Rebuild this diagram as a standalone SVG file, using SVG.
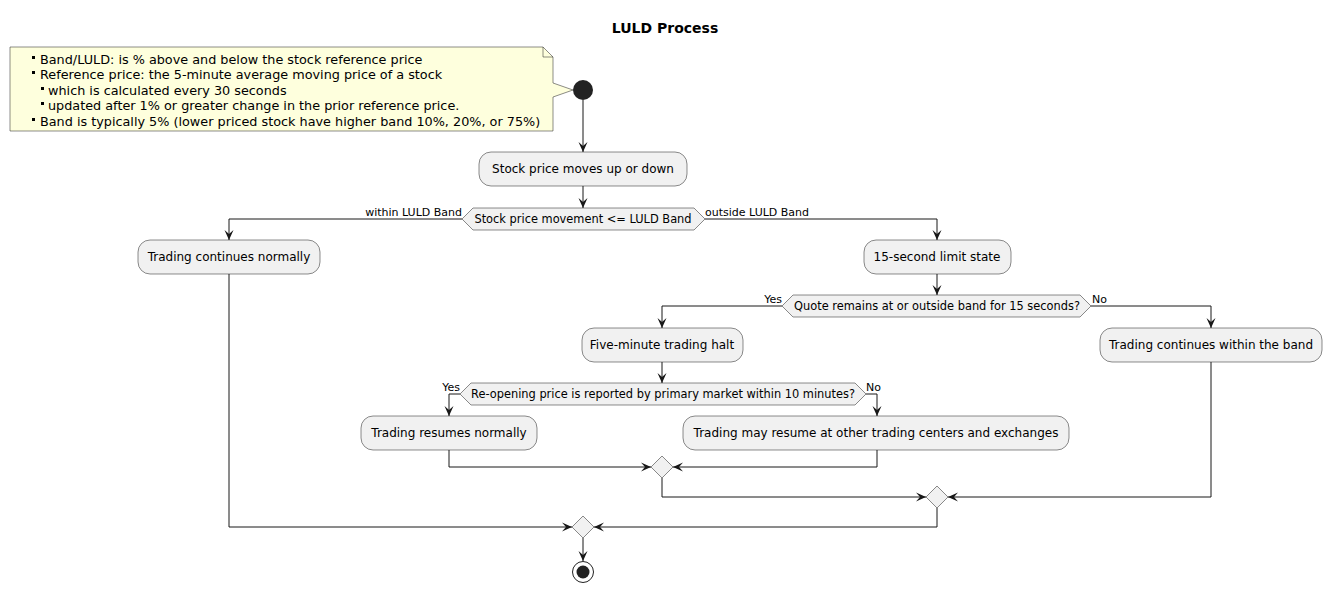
<svg xmlns="http://www.w3.org/2000/svg" width="1331" height="592" viewBox="0 0 1331 592">
<style>
text{font-family:"DejaVu Sans","Noto Sans",sans-serif;fill:#000}
.t{font-size:12px;text-anchor:middle}
.d{font-size:11.4px;text-anchor:middle}
.l{font-size:11px}
.n{font-size:12.8px}
.box{fill:#F1F1F1;stroke:#181818;stroke-width:0.5}
.ln{fill:none;stroke:#181818;stroke-width:1;marker-end:url(#ah)}
</style>
<defs>
<marker id="ah" markerWidth="12" markerHeight="12" refX="11" refY="6" orient="auto" markerUnits="userSpaceOnUse">
<path d="M1,1.5 L11,6 L1,10.5 L5,6 Z" fill="#181818"/>
</marker>
</defs>
<rect width="1331" height="592" fill="#FFFFFF"/>
<text x="665" y="33" font-size="14" font-weight="bold" text-anchor="middle">LULD Process</text>

<g id="note">
<path d="M10,47 L543,47 L553,57 L553,83 L573,90 L553,97 L553,131 L10,131 Z" fill="#FEFFDD" stroke="#181818" stroke-width="0.5"/>
<path d="M543,47 L543,57 L553,57" fill="none" stroke="#181818" stroke-width="0.5"/>
<rect x="32" y="56" width="3" height="3" fill="#000"/>
<text class="n" x="40" y="64">Band/LULD: is % above and below the stock reference price</text>
<rect x="32" y="71" width="3" height="3" fill="#000"/>
<text class="n" x="40" y="79">Reference price: the 5-minute average moving price of a stock</text>
<rect x="41" y="87" width="3" height="3" fill="#000"/>
<text class="n" x="48" y="95">which is calculated every 30 seconds</text>
<rect x="41" y="102" width="3" height="3" fill="#000"/>
<text class="n" x="48" y="110">updated after 1% or greater change in the prior reference price.</text>
<rect x="32" y="118" width="3" height="3" fill="#000"/>
<text class="n" x="40" y="126">Band is typically 5% (lower priced stock have higher band 10%, 20%, or 75%)</text>
</g>

<g id="start"><circle cx="583" cy="90" r="10" fill="#222222"/></g>

<g id="n1"><rect class="box" x="479" y="152" width="208" height="34" rx="12"/><text class="t" x="583" y="173">Stock price moves up or down</text></g>
<g id="d1"><polygon class="box" points="462,219 473,208 694,208 705,219 694,230 473,230"/><text class="d" x="583" y="223">Stock price movement &lt;= LULD Band</text></g>
<g id="n2"><rect class="box" x="138" y="240" width="182" height="34" rx="12"/><text class="t" x="229" y="261">Trading continues normally</text></g>
<g id="n3"><rect class="box" x="864" y="240" width="147" height="34" rx="12"/><text class="t" x="937" y="261">15-second limit state</text></g>
<g id="d2"><polygon class="box" points="782,306 793,295 1080,295 1091,306 1080,317 793,317"/><text class="d" x="937" y="310">Quote remains at or outside band for 15 seconds?</text></g>
<g id="n4"><rect class="box" x="582" y="328" width="161" height="34" rx="12"/><text class="t" x="662" y="349">Five-minute trading halt</text></g>
<g id="n5"><rect class="box" x="1100" y="328" width="222" height="34" rx="12"/><text class="t" x="1211" y="349">Trading continues within the band</text></g>
<g id="d3"><polygon class="box" points="460,394 471,383 855,383 866,394 855,405 471,405"/><text class="d" x="663" y="398">Re-opening price is reported by primary market within 10 minutes?</text></g>
<g id="n6"><rect class="box" x="361" y="416" width="176" height="34" rx="12"/><text class="t" x="449" y="437">Trading resumes normally</text></g>
<g id="n7"><rect class="box" x="683" y="416" width="386" height="34" rx="12"/><text class="t" x="876" y="437">Trading may resume at other trading centers and exchanges</text></g>
<g id="m1"><polygon class="box" points="662,456 673,467 662,478 651,467"/></g>
<g id="m2"><polygon class="box" points="937,486 948,497 937,508 926,497"/></g>
<g id="m3"><polygon class="box" points="583,516 594,527 583,538 572,527"/></g>
<g id="end"><circle cx="583" cy="572" r="10.5" fill="none" stroke="#222222" stroke-width="1"/><circle cx="583" cy="572" r="6.5" fill="#222222"/></g>

<g id="connectors">
<path class="ln" d="M583,100 L583,152"/>
<path class="ln" d="M583,186 L583,208"/>
<path class="ln" d="M462,219 L229,219 L229,240"/>
<path class="ln" d="M705,219 L937,219 L937,240"/>
<path class="ln" d="M937,274 L937,295"/>
<path class="ln" d="M782,306 L662,306 L662,328"/>
<path class="ln" d="M1091,306 L1211,306 L1211,328"/>
<path class="ln" d="M662,362 L662,383"/>
<path class="ln" d="M460,394 L449,394 L449,416"/>
<path class="ln" d="M866,394 L877,394 L877,416"/>
<path class="ln" d="M449,450 L449,467 L651,467"/>
<path class="ln" d="M877,450 L877,467 L673,467"/>
<path class="ln" d="M662,478 L662,497 L926,497"/>
<path class="ln" d="M1211,362 L1211,497 L948,497"/>
<path class="ln" d="M229,274 L229,527 L572,527"/>
<path class="ln" d="M937,508 L937,527 L594,527"/>
<path class="ln" d="M583,538 L583,561"/>
<text class="l" x="462" y="216" text-anchor="end">within LULD Band</text>
<text class="l" x="705" y="216">outside LULD Band</text>
<text class="l" x="782" y="303" text-anchor="end">Yes</text>
<text class="l" x="1092" y="303">No</text>
<text class="l" x="460" y="391" text-anchor="end">Yes</text>
<text class="l" x="866" y="391">No</text>
</g>
</svg>
